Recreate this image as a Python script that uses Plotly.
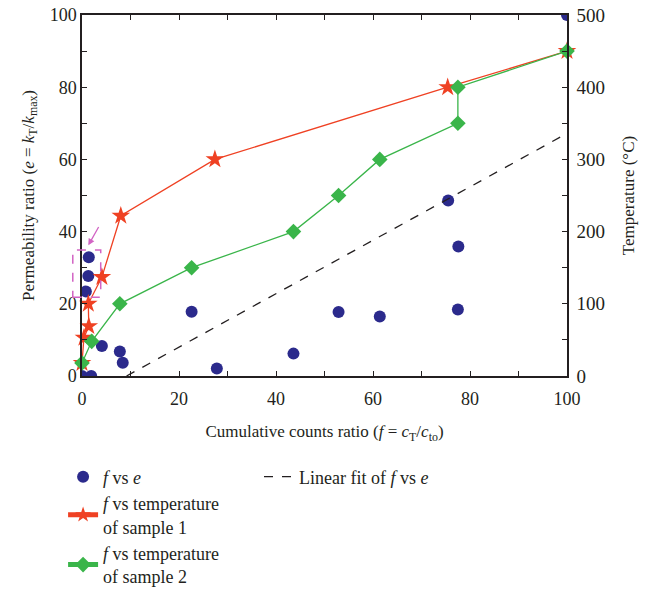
import plotly.graph_objects as go

# f vs e (blue spheres)
f_e_x = [0, 0.8, 1.3, 1.4, 1.9, 4.1, 7.8, 8.4, 22.6, 27.8, 43.6, 52.9, 61.4, 75.5, 77.6, 77.5, 100]
f_e_y = [0, 23.4, 27.7, 32.9, 0, 8.3, 6.8, 3.7, 17.8, 2.1, 6.2, 17.7, 16.5, 48.6, 35.9, 18.4, 100]

# f vs temperature of sample 1
s1_x = [0, 0.4, 1.4, 1.3, 4.1, 8.0, 27.4, 75.4, 100]
s1_t = [18, 53, 69, 100, 137, 222, 300, 400, 450]

# f vs temperature of sample 2
s2_x = [0, 2.0, 7.8, 22.6, 43.6, 52.9, 61.4, 77.5, 77.5, 100]
s2_t = [18, 48, 100, 150, 200, 250, 300, 350, 400, 450]

# linear fit of f vs e: e = slope*f + intercept
fit_slope = 0.74
fit_intercept = -6.8
fit_x = [-fit_intercept / fit_slope, 100]
fit_y = [fit_slope * v + fit_intercept for v in fit_x]

FONT = "Liberation Serif"
INK = "#231f20"
BLUE = "#2b2a8c"
RED = "#ef4123"
GREEN = "#3ab54a"
PINK = "#d264c4"

fig = go.Figure()

fig.add_trace(go.Scatter(
    x=f_e_x, y=f_e_y, mode="markers", name="<i>f</i> vs <i>e</i>",
    marker=dict(color=BLUE, size=12, line=dict(width=0)),
    cliponaxis=True, legend="legend"))

fig.add_trace(go.Scatter(
    x=s1_x, y=s1_t, mode="lines+markers", yaxis="y2",
    name="<i>f</i> vs temperature<br>of sample 1",
    line=dict(color=RED, width=1.3),
    marker=dict(symbol="star", size=14, color=RED, line=dict(width=0)),
    cliponaxis=False, legend="legend"))

fig.add_trace(go.Scatter(
    x=s2_x, y=s2_t, mode="lines+markers", yaxis="y2",
    name="<i>f</i> vs temperature<br>of sample 2",
    line=dict(color=GREEN, width=1.3),
    marker=dict(symbol="diamond", size=12, color=GREEN, line=dict(width=0)),
    cliponaxis=False, legend="legend"))

fig.add_trace(go.Scatter(
    x=fit_x, y=fit_y, mode="lines", name="Linear fit of <i>f</i> vs <i>e</i>",
    line=dict(color="#231f20", width=1.3, dash="dash"),
    legend="legend2"))

axis_common = dict(
    showline=True, linecolor=INK, linewidth=1.5, showgrid=False, zeroline=False,
    ticks="inside", ticklen=5, tickwidth=1.2, tickcolor=INK,
)

fig.update_layout(
    width=648, height=593,
    paper_bgcolor="white", plot_bgcolor="white",
    margin=dict(l=82, r=81, t=15, b=217, autoexpand=False),
    font=dict(family=FONT, size=17, color=INK),
    xaxis=dict(
        range=[0, 100], dtick=20, mirror="ticks", ticklabelstandoff=6,
        tickfont=dict(family=FONT, size=18, color=INK),
        minor=dict(dtick=10, ticks="inside", ticklen=5, tickcolor=INK),
        title=dict(text="Cumulative counts ratio (<i>f</i> = <i>c</i><sub>T</sub>/<i>c</i><sub>to</sub>)",
                   font=dict(family=FONT, size=17, color=INK), standoff=17),
        **axis_common),
    yaxis=dict(
        range=[0, 100], dtick=20,
        tickfont=dict(family=FONT, size=18, color=INK),
        minor=dict(dtick=10, ticks="inside", ticklen=5, tickcolor=INK),
        title=dict(text="Permeability ratio (<i>e</i> = <i>k</i><sub>T</sub>/<i>k</i><sub>max</sub>)",
                   font=dict(family=FONT, size=17, color=INK), standoff=11),
        **axis_common),
    yaxis2=dict(
        range=[0, 500], dtick=100, overlaying="y", side="right", ticklabelstandoff=4,
        tickfont=dict(family=FONT, size=19, color=INK),
        minor=dict(dtick=50, ticks="inside", ticklen=5, tickcolor=INK),
        title=dict(text="Temperature (°C)", font=dict(family=FONT, size=17, color=INK), standoff=18),
        **axis_common),
    legend=dict(
        x=-0.039, y=-0.2285, xanchor="left", yanchor="top",
        bgcolor="rgba(0,0,0,0)", font=dict(family=FONT, size=18, color=INK),
        itemsizing="constant"),
    legend2=dict(
        x=0.365, y=-0.2285, xanchor="left", yanchor="top",
        bgcolor="rgba(0,0,0,0)", font=dict(family=FONT, size=18, color=INK)),
    showlegend=True,
)

# highlight box and arrow
fig.add_shape(type="rect", xref="paper", yref="paper", x0=-0.019, x1=0.0386, y0=0.218, y1=0.349,
              line=dict(color=PINK, width=1.5, dash="dash"), layer="above")
fig.add_annotation(x=1.3, y=36.2, ax=3.6, ay=41.7, xref="x", yref="y", axref="x", ayref="y",
                   showarrow=True, arrowhead=2, arrowsize=1, arrowwidth=1.3, arrowcolor=PINK, text="")

fig.write_html("out.html")
